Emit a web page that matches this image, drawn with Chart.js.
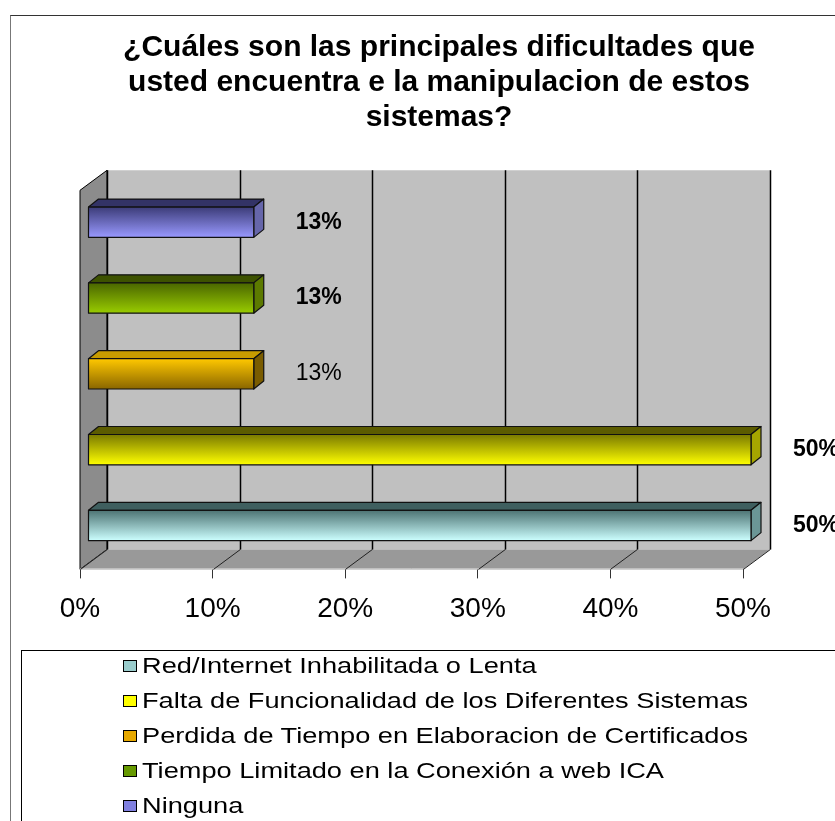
<!DOCTYPE html>
<html>
<head>
<meta charset="utf-8">
<script src="https://cdn.jsdelivr.net/npm/chart.js@4/dist/chart.umd.min.js"></script>
<style>
  html, body { margin: 0; padding: 0; background: #fff; width: 835px; height: 821px; overflow: hidden; }
  #wrap { position: relative; width: 835px; height: 821px; }
  #c { position: absolute; left: 0; top: 0; }
  .frame { position: absolute; left: 10px; top: 15px; width: 840px; height: 820px; border-top: 1px solid #333; border-left: 1px solid #777; pointer-events: none; }
  #legend { position: absolute; left: 21px; top: 650px; width: 840px; height: 200px; border: 1px solid #000; font-family: "Liberation Sans", Arial, sans-serif; font-size: 22px; color: #000; }
  .item { position: absolute; left: 101px; height: 30px; white-space: nowrap; display: flex; align-items: center; }
  .sw { width: 14px; height: 12px; border: 1.5px solid #000; margin-right: 5px; box-sizing: border-box; }
  .txt { display: inline-block; transform: scaleX(1.236); transform-origin: left center; }
</style>
</head>
<body>
<div id="wrap">
  <canvas id="c" width="835" height="655"></canvas>
  <div class="frame"></div>
  <div id="legend"></div>
</div>
<script>
// data
const titleLines = ['¿Cuáles son las principales dificultades que', 'usted encuentra e la manipulacion de estos', 'sistemas?'];
const categories = [
  'Red/Internet Inhabilitada o Lenta',
  'Falta de Funcionalidad de los Diferentes Sistemas',
  'Perdida de Tiempo en Elaboracion de Certificados',
  'Tiempo Limitado en la Conexión a web ICA',
  'Ninguna'
];
const values = [50, 50, 12.5, 12.5, 12.5];
const xTicks = [0, 10, 20, 30, 40, 50];

// colours per category
const swatch   = ['#99cccc', '#ffff00', '#e6a800', '#669900', '#8080e0'];
const faceTop  = ['#4d7373', '#7a7a00', '#ffc800', '#4a6600', '#3c3c78'];
const faceBot  = ['#ccffff', '#ffff00', '#8a6600', '#99cc00', '#9999ff'];
const topFace  = ['#3f5f5f', '#5c5c00', '#c89c00', '#3d5200', '#333366'];
const sideFace = ['#6b9696', '#a6a600', '#7a5c00', '#5c7a00', '#6666aa'];
const labelWeight = ['bold', 'bold', 'normal', 'bold', 'bold'];

const FONT = '"Liberation Sans", Arial, sans-serif';
const WALL = { dx: 27, dy: -20 };   // full depth of the 3d box
const BAR_FRONT = { dx: 8, dy: -6 };
const BAR_DEPTH = { dx: 10, dy: -8 };

function poly(ctx, pts, fill, stroke) {
  ctx.beginPath();
  ctx.moveTo(pts[0][0], pts[0][1]);
  for (let i = 1; i < pts.length; i++) ctx.lineTo(pts[i][0], pts[i][1]);
  ctx.closePath();
  if (fill) { ctx.fillStyle = fill; ctx.fill(); }
  if (stroke) { ctx.strokeStyle = stroke; ctx.stroke(); }
}

const box3d = {
  id: 'box3d',
  beforeDatasetsDraw(chart) {
    const { ctx, chartArea: a, scales: { x } } = chart;
    const { dx, dy } = WALL;
    ctx.save();
    ctx.lineWidth = 1;
    // back wall
    poly(ctx, [[a.left + dx, a.top + dy], [a.right + dx, a.top + dy], [a.right + dx, a.bottom + dy], [a.left + dx, a.bottom + dy]], '#c0c0c0', null);
    // left wall
    poly(ctx, [[a.left, a.top], [a.left + dx, a.top + dy], [a.left + dx, a.bottom + dy], [a.left, a.bottom]], '#8c8c8c', '#000');
    // floor
    poly(ctx, [[a.left, a.bottom], [a.left + dx, a.bottom + dy], [a.right + dx, a.bottom + dy], [a.right, a.bottom]], '#999999', null);
    ctx.strokeStyle = '#d8d8d8';
    ctx.beginPath(); ctx.moveTo(a.left, a.bottom - 0.5); ctx.lineTo(a.right, a.bottom - 0.5); ctx.stroke();
    // grid lines on back wall and floor
    xTicks.forEach(v => {
      const px = Math.round(x.getPixelForValue(v)) + 0.5;
      ctx.strokeStyle = '#000';
      ctx.lineWidth = 1.5;
      ctx.beginPath();
      ctx.moveTo(px + dx, a.top + dy);
      ctx.lineTo(px + dx, a.bottom + dy);
      ctx.stroke();
      ctx.lineWidth = 1;
      ctx.strokeStyle = '#222';
      ctx.beginPath();
      ctx.moveTo(px, a.bottom);
      ctx.lineTo(px + dx, a.bottom + dy);
      ctx.stroke();
    });
    ctx.restore();
  },
  afterDatasetsDraw(chart) {
    const { ctx } = chart;
    const meta = chart.getDatasetMeta(0);
    ctx.save();
    ctx.lineWidth = 1.2;
    ctx.lineJoin = 'round';
    meta.data.forEach((el, i) => {
      const { x, y, base, height } = el.getProps(['x', 'y', 'base', 'height'], true);
      const l = base + BAR_FRONT.dx, r = x + BAR_FRONT.dx;
      const t = y - height / 2 + BAR_FRONT.dy, b = y + height / 2 + BAR_FRONT.dy;
      const ddx = BAR_DEPTH.dx, ddy = BAR_DEPTH.dy;
      poly(ctx, [[l, t], [l + ddx, t + ddy], [r + ddx, t + ddy], [r, t]], topFace[i], '#111');
      poly(ctx, [[r, t], [r + ddx, t + ddy], [r + ddx, b + ddy], [r, b]], sideFace[i], '#111');
      const g = ctx.createLinearGradient(0, t, 0, b);
      g.addColorStop(0, faceTop[i]);
      g.addColorStop(1, faceBot[i]);
      poly(ctx, [[l, t], [r, t], [r, b], [l, b]], g, '#111');
      // value label
      ctx.fillStyle = '#000';
      ctx.font = labelWeight[i] + ' 23px ' + FONT;
      ctx.textAlign = 'left';
      ctx.textBaseline = 'middle';
      ctx.fillText(Math.round(values[i]) + '%', r + ddx + 32, y + BAR_FRONT.dy);
    });
    ctx.restore();
  }
};

new Chart(document.getElementById('c'), {
  type: 'bar',
  data: {
    labels: categories,
    datasets: [{
      data: values,
      backgroundColor: 'rgba(0,0,0,0)',
      borderWidth: 0,
      barPercentage: 0.4,
      categoryPercentage: 1
    }]
  },
  options: {
    indexAxis: 'y',
    responsive: false,
    animation: false,
    devicePixelRatio: 1,
    layout: { padding: { left: 43, right: 0, top: 0, bottom: 15 } },
    plugins: {
      legend: { display: false },
      tooltip: { enabled: false },
      title: {
        display: true,
        text: titleLines,
        color: '#000',
        font: { family: FONT, size: 30, weight: 'bold', lineHeight: 1.17 },
        padding: { top: 30, bottom: 55 }
      }
    },
    scales: {
      x: {
        min: 0, max: 50,
        afterBuildTicks(axis) { axis.ticks = xTicks.map(v => ({ value: v })); },
        grid: { drawOnChartArea: false, drawTicks: true, tickLength: 9, color: '#333' },
        border: { display: false },
        ticks: { color: '#000', padding: 14, font: { family: FONT, size: 28 }, callback: v => v + '%' }
      },
      y: {
        reverse: true,
        grid: { display: false },
        border: { display: false },
        ticks: { display: false },
        afterFit(s) { s.width = 37; }
      },
      yRight: {
        type: 'linear',
        position: 'right',
        display: true,
        grid: { display: false },
        border: { display: false },
        ticks: { display: false },
        afterFit(s) { s.width = 92; }
      }
    }
  },
  plugins: [box3d]
});

// legend
const legend = document.getElementById('legend');
categories.forEach((c, i) => {
  const row = document.createElement('div');
  row.className = 'item';
  row.style.top = (i * 35) + 'px';
  row.innerHTML = `<span class="sw" style="background:${swatch[i]}"></span><span class="txt">${c}</span>`;
  legend.appendChild(row);
});
</script>
</body>
</html>
